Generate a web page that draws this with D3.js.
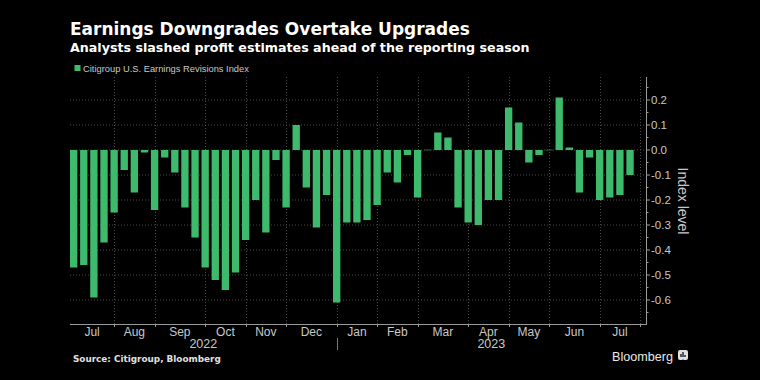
<!DOCTYPE html>
<html><head><meta charset="utf-8">
<script src="https://cdn.jsdelivr.net/npm/d3@7"></script>
<style>
html,body{margin:0;padding:0;background:#000;}
svg{display:block;}
</style></head>
<body>
<svg id="c" width="760" height="380"></svg>
<script>
const dates = ["2022-07-08","2022-07-15","2022-07-22","2022-07-29",
"2022-08-05","2022-08-12","2022-08-19","2022-08-26",
"2022-09-02","2022-09-09","2022-09-16","2022-09-23","2022-09-30",
"2022-10-07","2022-10-14","2022-10-21","2022-10-28",
"2022-11-04","2022-11-11","2022-11-18","2022-11-25",
"2022-12-02","2022-12-09","2022-12-16","2022-12-23","2022-12-30",
"2023-01-06","2023-01-13","2023-01-20","2023-01-27",
"2023-02-03","2023-02-10","2023-02-17","2023-02-24",
"2023-03-03","2023-03-10","2023-03-17","2023-03-24","2023-03-31",
"2023-04-07","2023-04-14","2023-04-21","2023-04-28",
"2023-05-05","2023-05-12","2023-05-19","2023-05-26",
"2023-06-02","2023-06-09","2023-06-16","2023-06-23","2023-06-30",
"2023-07-07","2023-07-14","2023-07-21","2023-07-28"];
const revisions = [-0.47,-0.46,-0.59,-0.37,
-0.25,-0.08,-0.17,-0.01,
-0.24,-0.03,-0.09,-0.23,-0.35,
-0.47,-0.52,-0.56,-0.49,
-0.36,-0.20,-0.33,-0.04,
-0.23,0.10,-0.15,-0.31,-0.18,
-0.61,-0.29,-0.29,-0.28,
-0.22,-0.09,-0.13,-0.02,
-0.19,0.00,0.07,0.05,-0.23,
-0.29,-0.30,-0.20,-0.20,
0.17,0.11,-0.05,-0.02,
0.00,0.21,0.01,-0.17,-0.03,
-0.20,-0.19,-0.18,-0.10];
const axisEnd = "2023-08-04";
const monthStarts = ["2022-08-05","2022-09-02","2022-10-07","2022-11-04","2022-12-02","2023-01-06","2023-02-03","2023-03-03","2023-04-07","2023-05-05","2023-06-02","2023-07-07","2023-08-04"];
const monthLabels = ["Jul","Aug","Sep","Oct","Nov","Dec","Jan","Feb","Mar","Apr","May","Jun","Jul"];
const yearLabels = ["2022","2023"];
const yearBreak = "2023-01-06";
const yTicks = [0.2,0.1,0.0,-0.1,-0.2,-0.3,-0.4,-0.5,-0.6];
const yMinorTicks = [0.25,0.15,0.05,-0.05,-0.15,-0.25,-0.35,-0.45,-0.55,-0.65];

const title = "Earnings Downgrades Overtake Upgrades";
const subtitle = "Analysts slashed profit estimates ahead of the reporting season";
const legendLabel = "Citigroup U.S. Earnings Revisions Index";
const yAxisTitle = "Index level";
const source = "Source: Citigroup, Bloomberg";

const svg = d3.select("#c");
const green = "#3dba6b";
const plotTop = 77, plotBottom = 324, plotRight = 646;

const x = d3.scaleBand().domain(dates.concat([axisEnd]))
  .range([68.6, 645.2]).paddingInner(0.275).paddingOuter(0.1375);
const y = d3.scaleLinear().domain([-0.6, 0.2]).range([300, 100]);
const plotLeft = x(dates[0]);
const cx = d => x(d) + x.bandwidth()/2;

function fit(sel, w){
  const n = sel.node();
  const fs = parseFloat(sel.attr("font-size"));
  const cur = n.getComputedTextLength();
  if (cur > 0) sel.attr("font-size", (fs * w / cur).toFixed(2));
}

// titles
fit(svg.append("text").attr("x",70).attr("y",35).attr("fill","#fff")
  .attr("font-family","'DejaVu Sans',sans-serif").attr("font-weight","bold")
  .attr("font-size",19).text(title), 400);
fit(svg.append("text").attr("x",70).attr("y",51.5).attr("fill","#fff")
  .attr("font-family","'DejaVu Sans',sans-serif").attr("font-weight","bold")
  .attr("font-size",14).text(subtitle), 460);

// legend
svg.append("rect").attr("x",74.5).attr("y",65).attr("width",6).attr("height",6).attr("fill",green);
fit(svg.append("text").attr("x",83).attr("y",71.8).attr("fill","#c8c8c8")
  .attr("font-family","'Liberation Sans',Arial,sans-serif")
  .attr("font-size",10).text(legendLabel), 166);

// grid
const g = svg.append("g");
g.selectAll("line.hg").data(yTicks).join("line")
  .attr("x1",plotLeft).attr("x2",plotRight)
  .attr("y1",d=>y(d)).attr("y2",d=>y(d))
  .attr("stroke","#4a4a4a").attr("stroke-width",1).attr("stroke-dasharray","1,2");
g.selectAll("line.vg").data(monthStarts).join("line")
  .attr("x1",d=>Math.round(cx(d))+0.5).attr("x2",d=>Math.round(cx(d))+0.5)
  .attr("y1",plotTop).attr("y2",plotBottom)
  .attr("stroke","#4a4a4a").attr("stroke-width",1).attr("stroke-dasharray","1,2");

// bars
svg.append("g").selectAll("rect").data(dates).join("rect")
  .attr("x",d=>x(d)).attr("width",x.bandwidth())
  .attr("y",(d,i)=>revisions[i]===0 ? y(0)-0.5 : Math.min(y(0),y(revisions[i])))
  .attr("height",(d,i)=>revisions[i]===0 ? 1 : Math.abs(y(revisions[i])-y(0)))
  .attr("fill",(d,i)=>revisions[i]===0 ? "#2a5a3a" : green);

// right axis
const ax = svg.append("g");
ax.append("line").attr("x1",plotRight+0.5).attr("x2",plotRight+0.5)
  .attr("y1",plotTop).attr("y2",plotBottom+0.5).attr("stroke","#9a9a9a");
ax.selectAll("line.mj").data(yTicks).join("line")
  .attr("x1",plotRight).attr("x2",plotRight+4)
  .attr("y1",d=>y(d)).attr("y2",d=>y(d)).attr("stroke","#9a9a9a");
ax.selectAll("line.mn").data(yMinorTicks).join("line")
  .attr("x1",plotRight).attr("x2",plotRight+2.5)
  .attr("y1",d=>y(d)).attr("y2",d=>y(d)).attr("stroke","#9a9a9a");
const fmt = v => d3.format(".1f")(v).replace("\u2212","-");
ax.selectAll("text").data(yTicks).join("text")
  .attr("x",plotRight+5).attr("y",d=>y(d)).attr("dy","0.36em")
  .attr("fill","#c8c8c8").attr("font-family","'Liberation Sans',Arial,sans-serif")
  .attr("font-size",11.5).text(fmt);
svg.append("text").attr("transform","translate(678,201) rotate(90)")
  .attr("text-anchor","middle").attr("fill","#c8c8c8")
  .attr("font-family","'Liberation Sans',Arial,sans-serif").attr("font-size",14)
  .text(yAxisTitle);

// bottom axis
const bx = svg.append("g");
bx.append("line").attr("x1",plotLeft).attr("x2",plotRight+1)
  .attr("y1",plotBottom+0.5).attr("y2",plotBottom+0.5).attr("stroke","#9a9a9a");
bx.selectAll("line.t").data(monthStarts).join("line")
  .attr("x1",d=>Math.round(cx(d))+0.5).attr("x2",d=>Math.round(cx(d))+0.5)
  .attr("y1",plotBottom).attr("y2",plotBottom+3).attr("stroke","#9a9a9a");
const bounds = [plotLeft].concat(monthStarts.map(cx));
bx.selectAll("text.m").data(monthLabels).join("text")
  .attr("x",(d,i)=>(bounds[i]+bounds[i+1])/2).attr("y",335.5)
  .attr("text-anchor","middle").attr("fill","#c8c8c8")
  .attr("font-family","'Liberation Sans Narrow','Liberation Sans',Arial,sans-serif")
  .attr("font-size",12).text(d=>d);
const yb = [plotLeft, cx(yearBreak), plotRight];
bx.selectAll("text.y").data(yearLabels).join("text")
  .attr("x",(d,i)=>(yb[i]+yb[i+1])/2).attr("y",348)
  .attr("text-anchor","middle").attr("fill","#c8c8c8")
  .attr("font-family","'Liberation Sans Narrow','Liberation Sans',Arial,sans-serif")
  .attr("font-size",12.5).text(d=>d);
bx.append("line").attr("x1",Math.round(cx(yearBreak))+0.5).attr("x2",Math.round(cx(yearBreak))+0.5)
  .attr("y1",338).attr("y2",350).attr("stroke","#777");

// source & logo
fit(svg.append("text").attr("x",73).attr("y",362).attr("fill","#e0e0e0")
  .attr("font-family","'DejaVu Sans',sans-serif").attr("font-weight","bold")
  .attr("font-size",10).text(source), 148);
fit(svg.append("text").attr("x",612).attr("y",361).attr("fill","#e8e8e8")
  .attr("font-family","'Liberation Sans',Arial,sans-serif")
  .attr("font-size",13).text("Bloomberg"), 61);
const logo = svg.append("g").attr("transform","translate(678,350)");
logo.append("rect").attr("width",10).attr("height",10).attr("rx",2).attr("fill","#e0e0e0");
logo.append("path").attr("d","M3,7V4 M5,7V2 M7,7V5 M5,9.5V11.5").attr("stroke","#000").attr("stroke-width",1.2);
</script>
</body></html>
